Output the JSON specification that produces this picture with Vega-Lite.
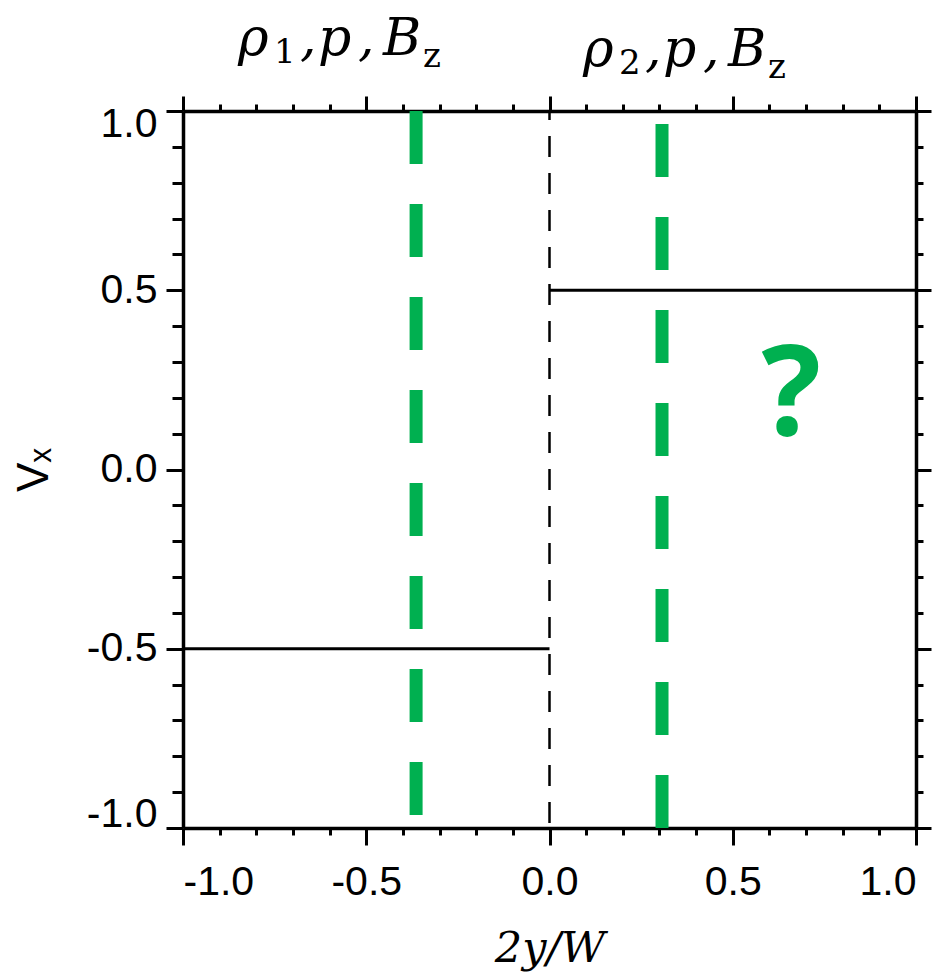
{
  "$schema": "https://vega.github.io/schema/vega-lite/v6.json",
  "width": 733,
  "height": 717,
  "autosize": "none",
  "padding": {"left": 183, "top": 111, "right": 35, "bottom": 144},
  "background": "white",
  "config": {
    "view": {"stroke": null},
    "axis": {
      "grid": false,
      "domainColor": "black",
      "tickColor": "black",
      "domainWidth": 3.5,
      "tickWidth": 3,
      "labelColor": "black",
      "labelFont": "Liberation Sans",
      "labelFontSize": 41,
      "titleColor": "black"
    }
  },
  "datasets": {
    "hlines": [{"x1": -1, "x2": 0, "v": -0.5}, {"x1": 0, "x2": 1, "v": 0.5}],
    "vline": [{"x": 0, "ya": 1, "yb": -1}],
    "green": [{"x": -0.364, "ya": 1, "yb": -1}, {"x": 0.307, "ya": -1, "yb": 1}],
    "question": [{"x": 0.66, "y": 0.096, "t": "?"}],
    "labels": [{"x": -0.8445, "y": 1.156, "sub": "1"}, {"x": 0.097, "y": 1.1255, "sub": "2"}]
  },
  "resolve": {"axis": {"x": "independent", "y": "independent"}},
  "layer": [
    {
      "data": {"name": "hlines"},
      "mark": {"type": "rule", "color": "black", "strokeWidth": 3},
      "encoding": {
        "x": {
          "field": "x1", "type": "quantitative",
          "scale": {"domain": [-1, 1], "nice": false, "zero": false},
          "axis": {
            "orient": "bottom", "values": [-1, -0.5, 0, 0.5, 1],
            "labelExpr": "(datum.value < 0 ? '-' : '') + format(abs(datum.value), '.1f')",
            "tickSize": 17, "labelPadding": 17,
            "title": "2y/W", "titleFont": "DejaVu Serif", "titleFontStyle": "italic",
            "titleFontWeight": "normal", "titleFontSize": 43, "titlePadding": 25
          }
        },
        "x2": {"field": "x2"},
        "y": {
          "field": "v", "type": "quantitative",
          "scale": {"domain": [-1, 1], "nice": false, "zero": false},
          "axis": {
            "orient": "left", "values": [-1, -0.5, 0, 0.5, 1],
            "labelExpr": "(datum.value < 0 ? '-' : '') + format(abs(datum.value), '.1f')",
            "tickSize": 17, "labelPadding": 9, "labelFlush": true, "labelFlushOffset": 7,
            "title": "Vₓ", "titleFont": "Liberation Sans", "titleFontWeight": "normal",
            "titleFontSize": 44, "titlePadding": 30
          }
        }
      }
    },
    {
      "data": {"name": "vline"},
      "mark": {"type": "rule", "color": "black", "strokeWidth": 2.5, "strokeDash": [21, 16], "strokeDashOffset": 12},
      "encoding": {
        "x": {
          "field": "x", "type": "quantitative",
          "axis": {"orient": "top", "values": [-1, -0.5, 0, 0.5, 1], "labels": false, "tickSize": 15, "title": null}
        },
        "y": {
          "field": "ya", "type": "quantitative",
          "axis": {"orient": "right", "values": [-1, -0.5, 0, 0.5, 1], "labels": false, "tickSize": 15, "title": null}
        },
        "y2": {"field": "yb"}
      }
    },
    {
      "data": {"name": "green"},
      "mark": {"type": "rule", "color": "#00B050", "strokeWidth": 13, "strokeDash": [53, 40], "strokeCap": "butt"},
      "encoding": {
        "x": {
          "field": "x", "type": "quantitative",
          "axis": {"orient": "bottom", "values": [-0.9, -0.8, -0.7, -0.6, -0.4, -0.3, -0.2, -0.1, 0.1, 0.2, 0.3, 0.4, 0.6, 0.7, 0.8, 0.9], "labels": false, "domain": false, "tickSize": 7, "title": null}
        },
        "y": {
          "field": "ya", "type": "quantitative",
          "axis": {"orient": "left", "values": [-0.9, -0.8, -0.7, -0.6, -0.4, -0.3, -0.2, -0.1, 0.1, 0.2, 0.3, 0.4, 0.6, 0.7, 0.8, 0.9], "labels": false, "domain": false, "tickSize": 11, "title": null}
        },
        "y2": {"field": "yb"}
      }
    },
    {
      "data": {"name": "question"},
      "mark": {"type": "text", "color": "#00B050", "font": "Open Sans", "fontWeight": "bold", "fontSize": 125, "align": "center", "baseline": "alphabetic"},
      "encoding": {
        "x": {
          "field": "x", "type": "quantitative",
          "axis": {"orient": "top", "values": [-0.9, -0.8, -0.7, -0.6, -0.4, -0.3, -0.2, -0.1, 0.1, 0.2, 0.3, 0.4, 0.6, 0.7, 0.8, 0.9], "labels": false, "domain": false, "tickSize": 7, "title": null}
        },
        "y": {
          "field": "y", "type": "quantitative",
          "axis": {"orient": "right", "values": [-0.9, -0.8, -0.7, -0.6, -0.4, -0.3, -0.2, -0.1, 0.1, 0.2, 0.3, 0.4, 0.6, 0.7, 0.8, 0.9], "labels": false, "domain": false, "tickSize": 7, "title": null}
        },
        "text": {"field": "t"}
      }
    },
    {
      "data": {"name": "labels"},
      "mark": {"type": "text", "text": "ρ", "font": "DejaVu Serif", "fontStyle": "italic", "fontSize": 52, "align": "left", "baseline": "alphabetic", "dx": -2, "color": "black"},
      "encoding": {
        "x": {"field": "x", "type": "quantitative", "axis": null},
        "y": {"field": "y", "type": "quantitative", "axis": null}
      }
    },
    {
      "data": {"name": "labels"},
      "mark": {"type": "text", "font": "DejaVu Serif", "fontSize": 34, "align": "left", "baseline": "alphabetic", "dx": 34, "dy": 8, "color": "black"},
      "encoding": {
        "x": {"field": "x", "type": "quantitative", "axis": null},
        "y": {"field": "y", "type": "quantitative", "axis": null},
        "text": {"field": "sub"}
      }
    },
    {
      "data": {"name": "labels"},
      "mark": {"type": "text", "text": ",", "font": "DejaVu Serif", "fontStyle": "italic", "fontSize": 52, "align": "left", "baseline": "alphabetic", "dx": 60, "color": "black"},
      "encoding": {
        "x": {"field": "x", "type": "quantitative", "axis": null},
        "y": {"field": "y", "type": "quantitative", "axis": null}
      }
    },
    {
      "data": {"name": "labels"},
      "mark": {"type": "text", "text": "p", "font": "DejaVu Serif", "fontStyle": "italic", "fontSize": 52, "align": "left", "baseline": "alphabetic", "dx": 78, "color": "black"},
      "encoding": {
        "x": {"field": "x", "type": "quantitative", "axis": null},
        "y": {"field": "y", "type": "quantitative", "axis": null}
      }
    },
    {
      "data": {"name": "labels"},
      "mark": {"type": "text", "text": ",", "font": "DejaVu Serif", "fontStyle": "italic", "fontSize": 52, "align": "left", "baseline": "alphabetic", "dx": 118, "color": "black"},
      "encoding": {
        "x": {"field": "x", "type": "quantitative", "axis": null},
        "y": {"field": "y", "type": "quantitative", "axis": null}
      }
    },
    {
      "data": {"name": "labels"},
      "mark": {"type": "text", "text": "B", "font": "DejaVu Serif", "fontStyle": "italic", "fontSize": 52, "align": "left", "baseline": "alphabetic", "dx": 143, "color": "black"},
      "encoding": {
        "x": {"field": "x", "type": "quantitative", "axis": null},
        "y": {"field": "y", "type": "quantitative", "axis": null}
      }
    },
    {
      "data": {"name": "labels"},
      "mark": {"type": "text", "text": "z", "font": "DejaVu Serif", "fontSize": 34, "align": "left", "baseline": "alphabetic", "dx": 183, "dy": 12, "color": "black"},
      "encoding": {
        "x": {"field": "x", "type": "quantitative", "axis": null},
        "y": {"field": "y", "type": "quantitative", "axis": null}
      }
    }
  ]
}
